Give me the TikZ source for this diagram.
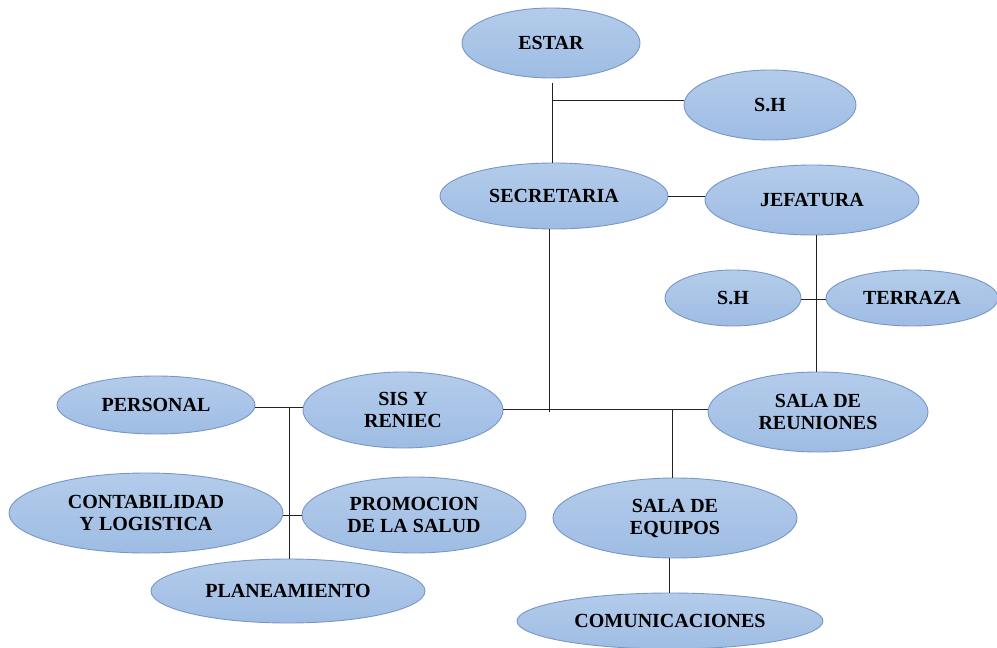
\documentclass[tikz,border=0pt]{standalone}
\usepackage{fontspec}
\setmainfont{Liberation Serif}
\usetikzlibrary{shapes.geometric}
\definecolor{bubtop}{RGB}{180,204,235}
\definecolor{bubbot}{RGB}{158,188,227}
\definecolor{bubline}{RGB}{120,150,200}
\definecolor{wire}{RGB}{35,35,35}
\tikzset{
  room/.style={ellipse, draw=bubline, line width=0.9pt,
    top color=bubtop, bottom color=bubbot,
    inner sep=0pt, align=center,
    font=\fontsize{20}{22}\selectfont\bfseries, text=black},
  wireline/.style={draw=wire, line width=1pt},
}
% full width and height of each ellipse in px (1 unit = 1pt)
\newcommand{\room}[6]{\node[room, minimum width=#4pt, minimum height=#5pt] (#1) at (#2,#3) {#6};}
\begin{document}
\begin{tikzpicture}[x=1pt,y=-1pt]
\useasboundingbox (0,0) rectangle (997,648);

\room{estar}{551}{43}{178}{70}{ESTAR}
\room{shtop}{770}{105}{172}{70}{S.H}
\room{secre}{554}{196}{228}{66}{SECRETARIA}
\room{jefa}{812}{200}{214}{70}{JEFATURA}
\room{shmid}{733}{298}{136}{56}{S.H}
\room{terr}{912}{298}{172}{56}{TERRAZA}
\room{reun}{818}{412}{220}{80}{SALA DE\\REUNIONES}
\room{equip}{675}{518}{244}{80}{SALA DE\\EQUIPOS}
\room{comu}{670}{621}{306}{56}{COMUNICACIONES}
\room{pers}{156}{405}{198}{58}{PERSONAL}
\room{sis}{403}{410}{200}{76}{SIS Y\\RENIEC}
\room{conta}{146}{513}{274}{80}{CONTABILIDAD\\Y LOGISTICA}
\room{promo}{414}{515}{224}{76}{PROMOCION\\DE LA SALUD}
\room{plan}{288}{591}{274}{64}{PLANEAMIENTO}

% junction points
\coordinate (jEstar) at (552,100);
\coordinate (jMain) at (549,410);
\coordinate (jEquip) at (672,409);
\coordinate (jSH) at (816,299);
\coordinate (jLeft) at (289,407);
\coordinate (jLeftMid) at (289,515);

% upper block
\draw[wireline] (552,83) -- (secre.north -| jEstar);
\draw[wireline] (jEstar) -- (shtop.west |- jEstar);
\draw[wireline] (secre.east) -- (jefa.west |- secre.east);
\draw[wireline] (secre.south -| jMain) -- (549,412);

% right block
\draw[wireline] (jefa.south -| jSH) -- (reun.north -| jSH);
\draw[wireline] (shmid.east |- jSH) -- (terr.west |- jSH);

% main corridor
\draw[wireline] (sis.east |- jEquip) -- (reun.west |- jEquip);
\draw[wireline] (jEquip) -- (equip.north -| jEquip);
\draw[wireline] (equip.south -| 669,0) -- (comu.north -| 669,0);

% left block
\draw[wireline] (pers.east |- jLeft) -- (sis.west |- jLeft);
\draw[wireline] (jLeft) -- (plan.north -| jLeft);
\draw[wireline] (conta.east |- jLeftMid) -- (promo.west |- jLeftMid);
\end{tikzpicture}
\end{document}
